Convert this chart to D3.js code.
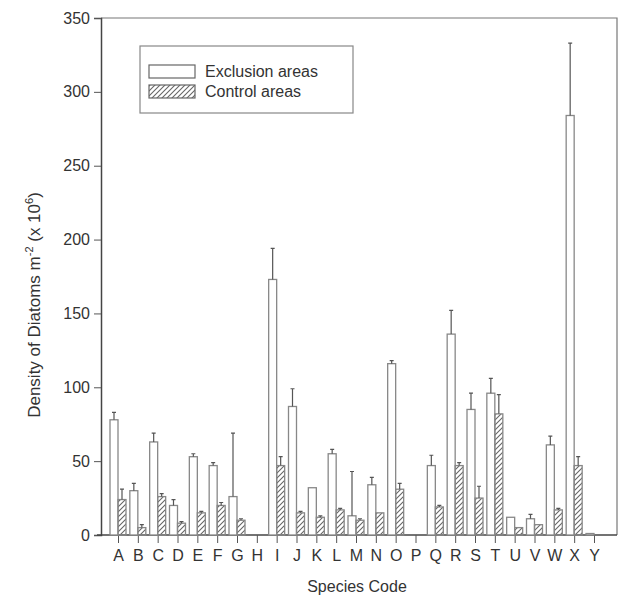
<!DOCTYPE html>
<html>
<head>
<meta charset="utf-8">
<script src="https://cdn.jsdelivr.net/npm/d3@7/dist/d3.min.js"></script>
<style>
  body { margin: 0; background: #fff; }
  text { font-family: "Liberation Sans", Arial, sans-serif; fill: #333; }
</style>
</head>
<body>
<svg id="chart" width="623" height="596"></svg>
<script>
    var species = ["A","B","C","D","E","F","G","H","I","J","K","L","M",
                   "N","O","P","Q","R","S","T","U","V","W","X","Y"];
    // exclusion areas: mean and upper error
    var exclusion    = [78, 30, 63, 20, 53, 47, 26, 0, 173, 87, 32, 55, 13,
                        34, 116, 0, 47, 136, 85, 96, 12, 11, 61, 284, 1];
    var exclusionErr = [5, 5, 6, 4, 2, 2, 43, 0, 21, 12, 0, 3, 30,
                        5, 2, 0, 7, 16, 11, 10, 0, 3, 6, 49, 0];
    // control areas
    var control      = [24, 5, 26, 8, 15, 20, 10, 0, 47, 15, 12, 17, 10,
                        15, 31, 0, 19, 47, 25, 82, 5, 7, 17, 47, 0];
    var controlErr   = [7, 2, 2, 1, 1, 2, 1, 0, 6, 1, 1, 1, 1,
                        0, 4, 0, 1, 2, 8, 13, 0, 0, 1, 6, 0];
    var yTicks = [0, 50, 100, 150, 200, 250, 300, 350];

    var svg = d3.select("#chart");
    var pLeft = 101, pRight = 617, pTop = 18, pBottom = 535;

    var x = d3.scalePoint().domain(species).range([118, 594]);
    var y = d3.scaleLinear().domain([0, 350]).range([pBottom, pTop]);
    var barW = 8;

    // hatch pattern for control bars
    var defs = svg.append("defs");
    defs.append("pattern")
      .attr("id", "hatch")
      .attr("patternUnits", "userSpaceOnUse")
      .attr("width", 5).attr("height", 5)
      .append("path")
      .attr("d", "M-1,1 l2,-2 M0,5 l5,-5 M4,6 l2,-2")
      .attr("stroke", "#666")
      .attr("stroke-width", 1.1);

    // frame: top and right
    svg.append("path")
      .attr("d", "M" + pLeft + "," + pTop + "H" + pRight + "V" + pBottom)
      .attr("fill", "none")
      .attr("stroke", "#777")
      .attr("stroke-width", 1.2);

    // y axis
    var yAxis = svg.append("g")
      .attr("transform", "translate(" + pLeft + ",0)")
      .call(d3.axisLeft(y).tickValues(yTicks).tickSize(7).tickPadding(4));
    yAxis.select(".domain").attr("stroke", "#444").attr("stroke-width", 1.5);
    yAxis.selectAll(".tick line").attr("stroke", "#555");
    yAxis.selectAll("text").style("font-size", "16px").attr("fill", "#333");

    // x axis
    var xAxis = svg.append("g")
      .attr("transform", "translate(0," + pBottom + ")")
      .call(d3.axisBottom(x).tickSize(8).tickPadding(7));
    xAxis.select(".domain").attr("d", "M" + (pLeft - 4) + ",0H" + pRight)
      .attr("stroke", "#444").attr("stroke-width", 1.5);
    xAxis.selectAll(".tick line").attr("stroke", "#555");
    xAxis.selectAll("text").style("font-size", "16px").attr("fill", "#333");

    var data = species.map(function (s, i) {
      return { s: s, ex: exclusion[i], exE: exclusionErr[i], co: control[i], coE: controlErr[i] };
    });

    var plot = svg.append("g");

    // exclusion bars (open)
    plot.selectAll(".ex").data(data).enter().append("rect")
      .attr("x", function (d) { return x(d.s) - barW; })
      .attr("y", function (d) { return y(d.ex); })
      .attr("width", barW)
      .attr("height", function (d) { return pBottom - y(d.ex); })
      .attr("fill", "#fff")
      .attr("stroke", "#888")
      .attr("stroke-width", 1.3);

    // control bars (hatched)
    plot.selectAll(".co").data(data).enter().append("rect")
      .attr("x", function (d) { return x(d.s); })
      .attr("y", function (d) { return y(d.co); })
      .attr("width", barW)
      .attr("height", function (d) { return pBottom - y(d.co); })
      .attr("fill", "url(#hatch)")
      .attr("stroke", "#888")
      .attr("stroke-width", 1.3);

    function errPath(cx, v, e) {
      if (e <= 0 || v <= 0) return "";
      var y0 = y(v), y1 = y(v + e);
      return "M" + cx + "," + y0 + "V" + y1 + "M" + (cx - 2) + "," + y1 + "H" + (cx + 2);
    }

    plot.selectAll(".exErr").data(data).enter().append("path")
      .attr("d", function (d) { return errPath(x(d.s) - barW / 2, d.ex, d.exE); })
      .attr("fill", "none").attr("stroke", "#555").attr("stroke-width", 1.2);

    plot.selectAll(".coErr").data(data).enter().append("path")
      .attr("d", function (d) { return errPath(x(d.s) + barW / 2, d.co, d.coE); })
      .attr("fill", "none").attr("stroke", "#555").attr("stroke-width", 1.2);

    // legend
    var lg = svg.append("g");
    lg.append("rect").attr("x", 140).attr("y", 46).attr("width", 213).attr("height", 67)
      .attr("fill", "#fff").attr("stroke", "#888").attr("stroke-width", 1.2);
    lg.append("rect").attr("x", 149).attr("y", 65).attr("width", 46).attr("height", 13)
      .attr("fill", "#fff").attr("stroke", "#666").attr("stroke-width", 1.2);
    lg.append("rect").attr("x", 149).attr("y", 85).attr("width", 46).attr("height", 13)
      .attr("fill", "url(#hatch)").attr("stroke", "#666").attr("stroke-width", 1.2);
    lg.append("text").attr("x", 205).attr("y", 77).style("font-size", "16px").text("Exclusion areas");
    lg.append("text").attr("x", 205).attr("y", 97).style("font-size", "16px").text("Control areas");

    // axis titles
    svg.append("text")
      .attr("x", 357).attr("y", 592)
      .attr("text-anchor", "middle")
      .style("font-size", "16px")
      .text("Species Code");

    var yt = svg.append("text")
      .attr("transform", "translate(40,305) rotate(-90)")
      .attr("text-anchor", "middle")
      .style("font-size", "17px");
    yt.append("tspan").text("Density of Diatoms  m");
    yt.append("tspan").attr("dy", -7).style("font-size", "11px").text("-2");
    yt.append("tspan").attr("dy", 7).text(" (x 10");
    yt.append("tspan").attr("dy", -7).style("font-size", "11px").text("6");
    yt.append("tspan").attr("dy", 7).text(")");
</script>
</body>
</html>
